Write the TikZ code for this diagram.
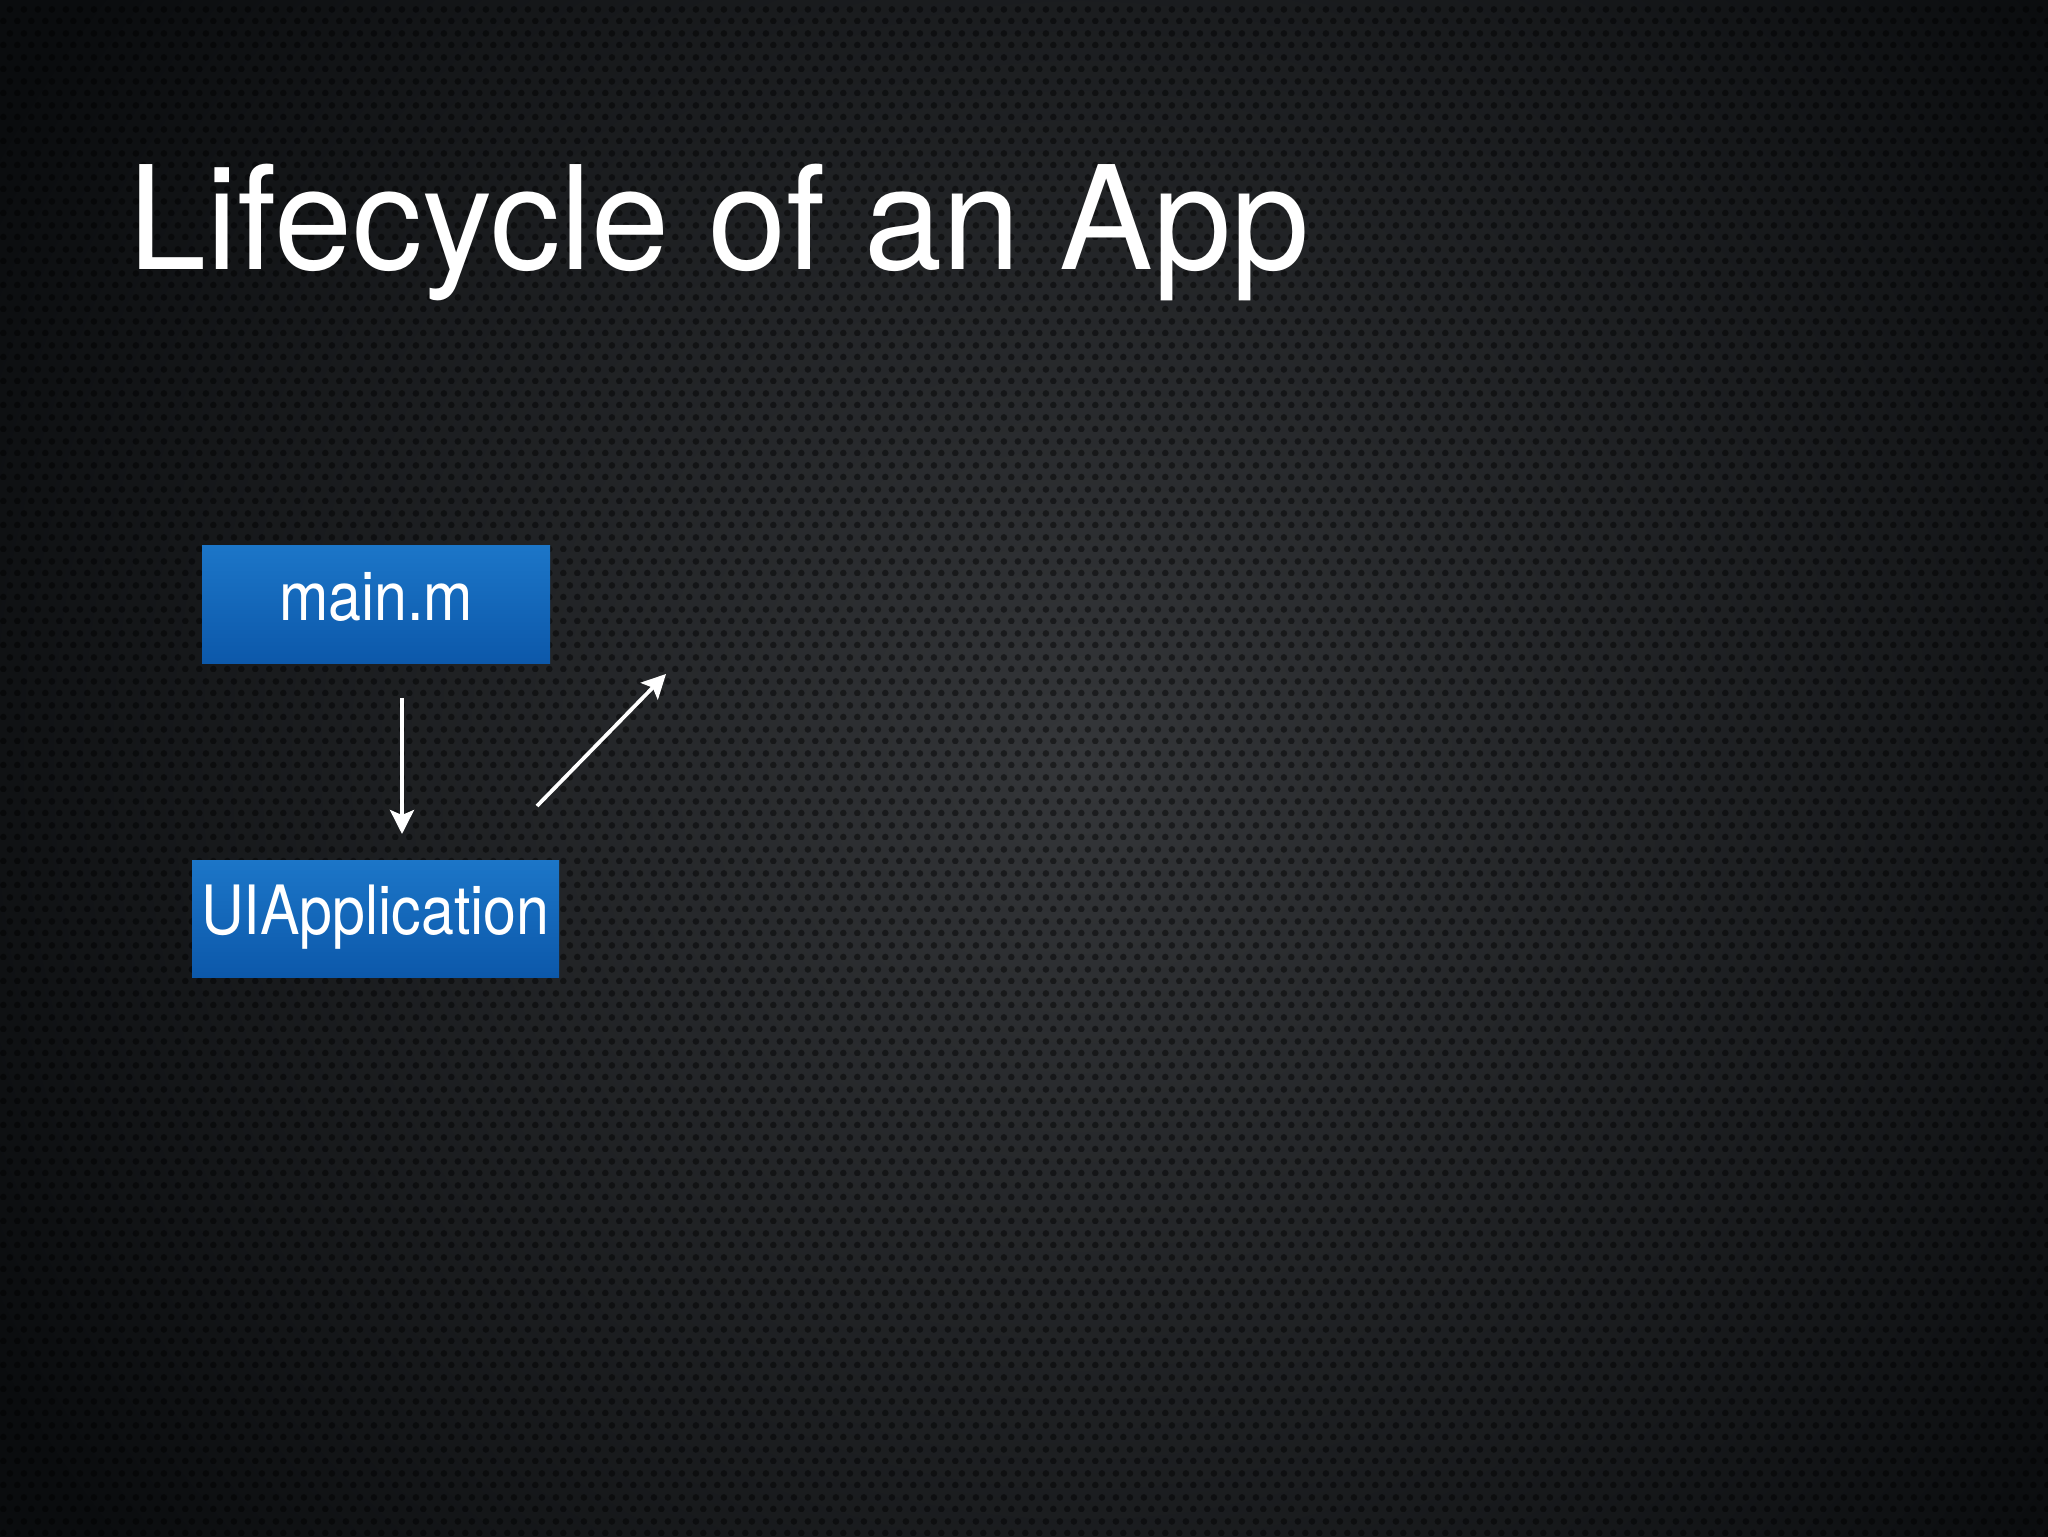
\documentclass[tikz,border=0pt]{standalone}
\usepackage{fontspec}
\setmainfont{TeX Gyre Heros}
\newfontfamily\titlefont[FakeStretch=0.975]{TeX Gyre Heros}
\newfontfamily\boxfont[FakeStretch=0.87]{TeX Gyre Heros}
\usetikzlibrary{arrows.meta,patterns.meta}
\definecolor{bgdark}{RGB}{10,12,14}
\definecolor{bglight}{RGB}{52,54,57}
\definecolor{boxtop}{RGB}{28,118,200}
\definecolor{boxbot}{RGB}{12,88,170}
\tikzdeclarepattern{
  name=holes,
  type=uncolored,
  bounding box={(0,0) and (6.8pt,11.8pt)},
  tile size={(6.8pt,11.8pt)},
  code={
    \fill (1.7pt,1.5pt) circle (1.7pt);
    \fill (5.1pt,7.4pt) circle (1.7pt);
  }
}
\tikzset{
  boxnode/.style={draw=none, top color=boxtop, bottom color=boxbot,
    text=white, font=\boxfont\fontsize{34}{40}\selectfont,
    inner sep=0pt, text height=20pt, text depth=4pt},
  arrowline/.style={draw=white, line width=1.9pt,
    -{Stealth[length=12pt,width=12pt,inset=2.5pt]}},
}
\begin{document}
\begin{tikzpicture}[x=0.5pt,y=-0.5pt]
\useasboundingbox (0,0) rectangle (2048,1536);
% background
\fill[bgdark] (-10,-10) rectangle (2058,1546);
\begin{scope}
\clip (-10,-10) rectangle (2058,1546);
\shade[inner color=bglight, outer color=bgdark] (1080,760) circle (1250);
\fill[pattern={holes}, pattern color=black, opacity=0.45] (-10,-10) rectangle (2058,1546);
\end{scope}
% title
\node[anchor=base west, inner sep=0pt, text=white,
  font=\titlefont\fontsize{72}{80}\selectfont] (title) at (128,269) {Lifecycle of an App};
% boxes
\node[boxnode, minimum width=174pt, minimum height=59pt] (main) at (376,604) {main.m};
\node[boxnode, minimum width=183.5pt, minimum height=58.5pt] (uiapp) at (375.5,918.5) {UIApplication};
% arrows
\coordinate (d1) at (402,698);
\coordinate (d2) at (402,834);
\coordinate (g1) at (537,806);
\coordinate (g2) at (666,674);
\draw[arrowline] (d1) -- (d2);
\draw[arrowline] (g1) -- (g2);
\end{tikzpicture}
\end{document}
